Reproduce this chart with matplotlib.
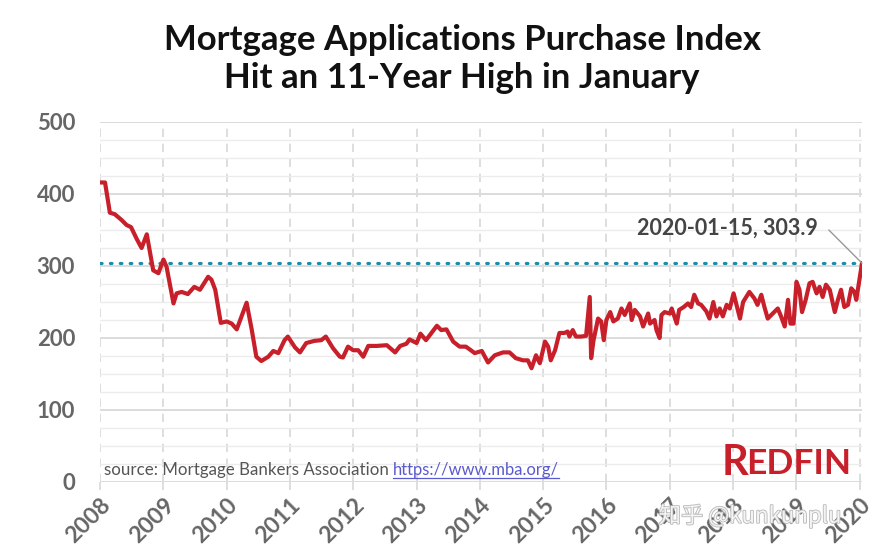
import matplotlib
matplotlib.use("Agg")
import matplotlib.pyplot as plt
import matplotlib.dates as mdates
import matplotlib.patheffects as pe
import numpy as np
import pandas as pd

# weekly purchase index (subsampled)
dates = [
    "2008-01-02", "2008-01-30", "2008-02-27", "2008-03-26", "2008-05-04", "2008-06-02",
    "2008-06-28", "2008-07-30", "2008-08-28", "2008-09-27", "2008-10-15", "2008-11-03",
    "2008-12-03", "2009-01-01", "2009-01-19", "2009-02-28", "2009-03-18", "2009-04-16",
    "2009-05-22", "2009-06-28", "2009-07-31", "2009-09-16", "2009-10-05", "2009-10-27",
    "2009-11-28", "2010-01-01", "2010-01-30", "2010-02-28", "2010-03-28", "2010-04-26",
    "2010-05-26", "2010-06-21", "2010-07-20", "2010-08-29", "2010-09-27", "2010-10-26",
    "2010-12-01", "2010-12-20", "2011-01-30", "2011-02-28", "2011-04-05", "2011-05-22",
    "2011-07-01", "2011-07-27", "2011-09-06", "2011-10-16", "2011-11-03", "2011-12-02",
    "2012-01-01", "2012-01-30", "2012-02-28", "2012-03-28", "2012-05-15", "2012-07-13",
    "2012-08-30", "2012-09-28", "2012-11-03", "2012-11-21", "2013-01-01", "2013-01-23",
    "2013-02-24", "2013-04-28", "2013-05-23", "2013-06-22", "2013-07-31", "2013-09-06",
    "2013-10-12", "2013-11-10", "2013-12-02", "2014-01-12", "2014-02-17", "2014-03-28",
    "2014-05-15", "2014-06-21", "2014-07-27", "2014-09-06", "2014-10-05", "2014-10-26",
    "2014-11-21", "2014-12-13", "2015-01-12", "2015-01-30", "2015-02-14", "2015-03-11",
    "2015-04-05", "2015-05-04", "2015-05-22", "2015-06-02", "2015-06-21", "2015-07-09",
    "2015-08-08", "2015-09-06", "2015-09-27", "2015-10-05", "2015-10-19", "2015-11-14",
    "2015-12-02", "2015-12-17", "2016-01-01", "2016-01-23", "2016-02-10", "2016-03-07",
    "2016-03-28", "2016-04-16", "2016-05-15", "2016-05-26", "2016-06-13", "2016-07-13",
    "2016-07-31", "2016-08-29", "2016-09-09", "2016-10-05", "2016-10-16", "2016-11-03",
    "2016-11-14", "2016-12-02", "2017-01-01", "2017-01-12", "2017-02-10", "2017-02-24",
    "2017-03-22", "2017-04-16", "2017-05-04", "2017-05-22", "2017-06-13", "2017-07-01",
    "2017-07-31", "2017-08-18", "2017-09-09", "2017-09-27", "2017-10-16", "2017-11-03",
    "2017-11-25", "2017-12-13", "2018-01-04", "2018-01-19", "2018-02-10", "2018-02-28",
    "2018-04-05", "2018-05-04", "2018-05-22", "2018-06-13", "2018-07-01", "2018-07-20",
    "2018-08-18", "2018-09-16", "2018-10-05", "2018-10-26", "2018-11-14", "2018-11-28",
    "2018-12-16", "2019-01-02", "2019-01-19", "2019-02-03", "2019-02-24", "2019-03-18",
    "2019-04-05", "2019-04-28", "2019-05-15", "2019-06-02", "2019-06-21", "2019-07-13",
    "2019-08-11", "2019-08-29", "2019-09-16", "2019-10-05", "2019-10-26", "2019-11-14",
    "2019-12-02", "2019-12-13", "2020-01-15",
]
values = [
    416, 416, 374, 372, 364, 357,
    354, 338, 325, 344, 320, 294,
    290, 309, 299, 248, 262, 264,
    261, 271, 267, 285, 281, 267,
    221, 223, 220, 212, 230, 249,
    211, 174, 168, 174, 182, 179,
    197, 202, 187, 180, 193, 196,
    197, 202, 186, 174, 173, 188,
    183, 183, 174, 189, 189, 190,
    180, 189, 192, 198, 193, 206,
    197, 217, 211, 212, 195, 188,
    188, 183, 179, 182, 166, 176,
    180, 180, 172, 169, 169, 158,
    176, 165, 195, 188, 169, 183,
    207, 207, 209, 202, 211, 202,
    202, 203, 257, 172, 197, 227,
    223, 197, 225, 236, 223, 227,
    241, 232, 248, 225, 239, 230,
    216, 234, 220, 225, 211, 200,
    232, 236, 234, 241, 220, 239,
    243, 248, 243, 260, 248, 246,
    237, 227, 250, 230, 241, 230,
    246, 241, 262, 248, 227, 250,
    264, 255, 246, 260, 243, 227,
    234, 241, 230, 216, 253, 220,
    220, 278, 267, 236, 253, 276,
    278, 262, 271, 257, 274, 267,
    236, 253, 267, 243, 246, 269,
    264, 253, 303.9,
]
peak_date = "2020-01-15"
peak_value = 303.9
year_ticks = list(range(2008, 2021))
y_ticks = [0, 100, 200, 300, 400, 500]

x = pd.to_datetime(dates)
font = ["Lato", "DejaVu Sans"]

fig = plt.figure(figsize=(8.81, 5.56), dpi=100)
ax = fig.add_axes([100 / 881, 1 - 482 / 556, 762 / 881, 360 / 556])

ax.plot(x, values, color="#c8202a", lw=3.0, solid_joinstyle="round", zorder=3)
ax.axhline(peak_value, color="#1a8ea6", lw=2.3, ls=(0, (0.5, 2.6)),
           dash_capstyle="round", zorder=2)

ax.set_xlim(pd.Timestamp("2008-01-01"), pd.Timestamp("2020-01-15"))
ax.set_ylim(0, 500)
ax.set_yticks(y_ticks)
ax.set_yticks(np.arange(0, 501, 25), minor=True)
ax.set_xticks([pd.Timestamp(f"{y}-01-01") for y in year_ticks])
ax.xaxis.set_major_formatter(mdates.DateFormatter("%Y"))

for s in ax.spines.values():
    s.set_visible(False)
ax.grid(axis="y", which="major", color="#dcdcdc", lw=1.4)
ax.grid(axis="y", which="minor", color="#ececec", lw=1.0)
ax.grid(axis="x", which="major", color="#d8d8d8", lw=1.2, ls=(0, (5, 4)))
ax.set_axisbelow(True)

ax.tick_params(axis="y", which="both", length=0, pad=18)
ax.tick_params(axis="x", length=6, width=1.2, color="#d8d8d8", pad=3)
for lab in ax.get_yticklabels():
    lab.set_fontfamily(font)
    lab.set_fontsize(16)
    lab.set_fontweight("bold")
    lab.set_color("#666666")
for lab in ax.get_xticklabels():
    lab.set_fontfamily(font)
    lab.set_fontsize(16.5)
    lab.set_fontweight("bold")
    lab.set_color("#666666")
    lab.set_rotation(45)
    lab.set_ha("right")
    lab.set_va("top")
    lab.set_rotation_mode("anchor")

# annotation of the peak
ax.annotate(f"{peak_date}, {peak_value}", xy=(pd.Timestamp(peak_date), peak_value),
            xytext=(818 / 881, 1 - 228 / 556), textcoords="figure fraction",
            ha="right", va="center", fontsize=15.5, color="#444444", family=font,
            fontweight="bold",
            arrowprops=dict(arrowstyle="-", color="#999999", lw=1,
                            shrinkA=6, shrinkB=0,
                            connectionstyle="angle,angleA=0,angleB=-45,rad=0"),
            zorder=5)

# title
fig.text(462 / 881, 1 - 40 / 556, "Mortgage Applications Purchase Index",
         ha="center", va="center", fontsize=25, fontweight="bold", family=font, color="#111111")
fig.text(462 / 881, 1 - 78 / 556, "Hit an 11-Year High in January",
         ha="center", va="center", fontsize=25, fontweight="bold", family=font, color="#111111")

# source line
src = fig.text(104 / 881, 1 - 470 / 556, "source: Mortgage Bankers Association",
               ha="left", va="center", fontsize=12.2, family=font, color="#555555")
fig.canvas.draw()
bb = src.get_window_extent()
link_x = (bb.x1 + 4) / 881
link = fig.text(link_x, 1 - 470 / 556, "https://www.mba.org/", ha="left", va="center",
                fontsize=12, family=font, color="#5a5ad0")
fig.canvas.draw()
lb = link.get_window_extent()
fig.add_artist(plt.Line2D([lb.x0 / 881, lb.x1 / 881], [1 - 478 / 556, 1 - 478 / 556],
                          color="#5a5ad0", lw=0.9))

# logo
fig.text(722 / 881, 1 - 463 / 556, "R", ha="left", va="center", fontsize=30,
         fontweight="bold", family=font, color="#c8202a")
fig.text(746 / 881, 1 - 464 / 556, "EDFIN", ha="left", va="center", fontsize=25.5,
         fontweight="bold", family=font, color="#c8202a")

# watermark
fig.text(750 / 881, 1 - 516 / 556, "知乎 @kunkunplu", ha="center", va="center",
         fontsize=16, family=["Noto Sans CJK SC", "DejaVu Sans"], color="#f4f4f4",
         path_effects=[pe.withStroke(linewidth=1.2, foreground="#b8b8b8")], zorder=10)

fig.savefig("out.png", dpi=100, facecolor="white")
